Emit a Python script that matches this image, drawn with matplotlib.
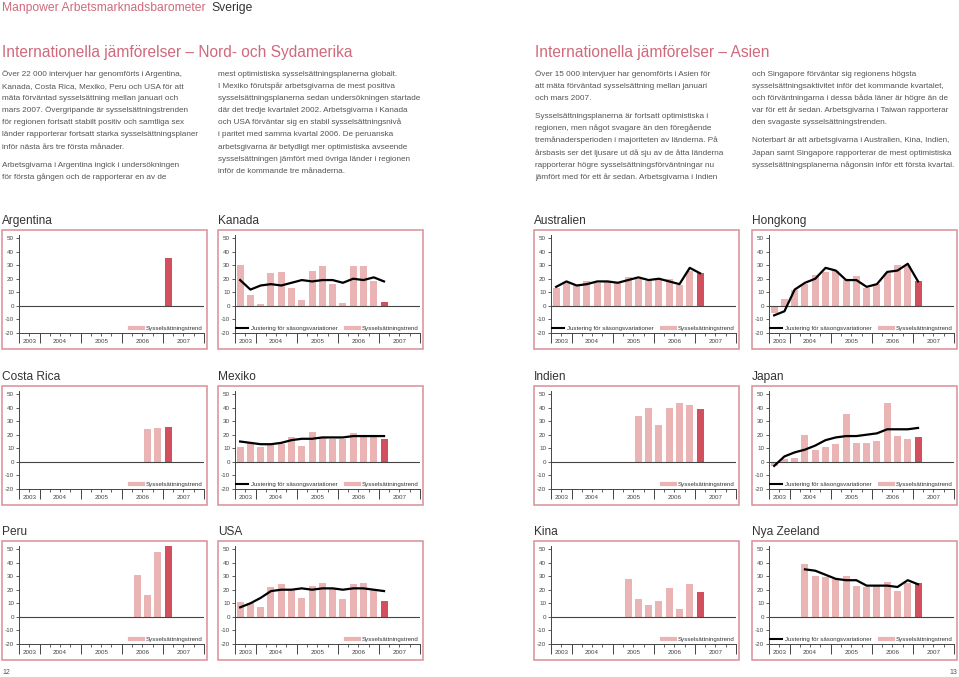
#Manpower Arbetsmarknadsbarometer - internationella jämförelser
#Sidorna 12-13 med tolv små stapeldiagram

import numpy as np
import matplotlib.pyplot as plt
from matplotlib.patches import Rectangle
from matplotlib.lines import Line2D
from matplotlib.transforms import blended_transform_factory

plt.rcParams['font.family'] = ['Liberation Sans', 'DejaVu Sans']

#Kvartalen på x-axeln (index 0 = 2003 Q3)
kvartal = ['2003 Q3', '2003 Q4',
           '2004 Q1', '2004 Q2', '2004 Q3', '2004 Q4',
           '2005 Q1', '2005 Q2', '2005 Q3', '2005 Q4',
           '2006 Q1', '2006 Q2', '2006 Q3', '2006 Q4',
           '2007 Q1', '2007 Q2', '2007 Q3', '2007 Q4']
ar = ['2003', '2004', '2005', '2006', '2007']
ar_granser = [0, 2, 6, 10, 14, 18]

#Sysselsättningstrend (staplar) och justering för säsongsvariationer (linje)
argentina_start = '2007 Q1'
argentina_trend = [35]

kanada_start = '2003 Q3'
kanada_trend = [30, 8, 1, 24, 25, 13, 4, 26, 29, 16, 2, 29, 29, 18, 3]
kanada_just = [19, 12, 15, 16, 15, 17, 19, 18, 19, 19, 17, 20, 19, 21, 18]

costarica_start = '2006 Q3'
costarica_trend = [24, 25, 26]

mexiko_start = '2003 Q3'
mexiko_trend = [11, 14, 11, 13, 13, 18, 12, 22, 18, 17, 17, 21, 19, 19, 17]
mexiko_just = [15, 14, 13, 13, 14, 16, 17, 17, 18, 18, 18, 19, 19, 19, 19]

peru_start = '2006 Q2'
peru_trend = [31, 16, 48, 52]

usa_start = '2003 Q3'
usa_trend = [11, 10, 7, 22, 24, 20, 14, 23, 25, 21, 13, 24, 25, 20, 12]
usa_just = [7, 10, 14, 19, 20, 20, 21, 20, 21, 21, 20, 21, 21, 20, 19]

australien_start = '2003 Q3'
australien_trend = [13, 17, 15, 18, 17, 18, 17, 21, 20, 18, 20, 20, 15, 26, 24]
australien_just = [14, 18, 15, 16, 18, 18, 17, 19, 21, 19, 20, 18, 16, 28, 24]

hongkong_start = '2003 Q3'
hongkong_trend = [-5, 5, 12, 16, 23, 25, 26, 19, 22, 13, 16, 24, 30, 29, 18]
hongkong_just = [-7, -4, 12, 17, 20, 28, 26, 19, 19, 14, 16, 25, 26, 31, 18]

indien_start = '2005 Q3'
indien_trend = [34, 40, 27, 40, 43, 42, 39]

japan_start = '2003 Q3'
japan_trend = [-3, 2, 3, 20, 9, 11, 13, 35, 14, 14, 15, 43, 19, 17, 18]
japan_just = [-3, 4, 7, 9, 12, 16, 18, 19, 19, 20, 21, 24, 24, 24, 25]

kina_start = '2005 Q2'
kina_trend = [28, 13, 9, 12, 21, 6, 24, 18]

nyazeeland_start = '2004 Q2'
nyazeeland_trend = [39, 30, 29, 28, 30, 23, 22, 23, 26, 19, 25, 25]
nyazeeland_just = [35, 34, 31, 28, 27, 27, 23, 23, 23, 22, 27, 24]

#Färger
ROSA = '#cf6a7c'
RAM = '#da8d97'
LJUS = '#ebb4b4'
MORK = '#d24f5e'
GRA = '#555555'

#Figuren i pixlar
W, H = 959, 677
fig = plt.figure(figsize=(W/100, H/100), dpi=100)
bg = fig.add_axes([0, 0, 1, 1])
bg.set_xlim(0, W)
bg.set_ylim(H, 0)
bg.axis('off')

def px(x, y, w, h):
    return [x/W, 1 - (y + h)/H, w/W, h/H]

#Rubriker
bg.text(2, 11, 'Manpower Arbetsmarknadsbarometer', color=ROSA, fontsize=8.7, va='baseline')
bg.text(211, 11, 'Sverige', color='#333333', fontsize=8.7, va='baseline')
bg.text(2, 57.5, 'Internationella jämförelser – Nord- och Sydamerika', color=ROSA, fontsize=11.2, va='baseline')
bg.text(535, 57.5, 'Internationella jämförelser – Asien', color=ROSA, fontsize=11.2, va='baseline')

#Brödtext
text1 = ['Över 22 000 intervjuer har genomförts i Argentina,',
         'Kanada, Costa Rica, Mexiko, Peru och USA för att',
         'mäta förväntad sysselsättning mellan januari och',
         'mars 2007. Övergripande är sysselsättningstrenden',
         'för regionen fortsatt stabilt positiv och samtliga sex',
         'länder rapporterar fortsatt starka sysselsättningsplaner',
         'inför nästa års tre första månader.',
         '',
         'Arbetsgivarna i Argentina ingick i undersökningen',
         'för första gången och de rapporterar en av de']
text2 = ['mest optimistiska sysselsättningsplanerna globalt.',
         'I Mexiko förutspår arbetsgivarna de mest positiva',
         'sysselsättningsplanerna sedan undersökningen startade',
         'där det tredje kvartalet 2002. Arbetsgivarna i Kanada',
         'och USA förväntar sig en stabil sysselsättningsnivå',
         'i paritet med samma kvartal 2006. De peruanska',
         'arbetsgivarna är betydligt mer optimistiska avseende',
         'sysselsättningen jämfört med övriga länder i regionen',
         'inför de kommande tre månaderna.']
text3 = ['Över 15 000 intervjuer har genomförts i Asien för',
         'att mäta förväntad sysselsättning mellan januari',
         'och mars 2007.',
         '',
         'Sysselsättningsplanerna är fortsatt optimistiska i',
         'regionen, men något svagare än den föregående',
         'tremånadersperioden i majoriteten av länderna. På',
         'årsbasis ser det ljusare ut då sju av de åtta länderna',
         'rapporterar högre sysselsättningsförväntningar nu',
         'jämfört med för ett år sedan. Arbetsgivarna i Indien']
text4 = ['och Singapore förväntar sig regionens högsta',
         'sysselsättningsaktivitet inför det kommande kvartalet,',
         'och förväntningarna i dessa båda läner är högre än de',
         'var för ett år sedan. Arbetsgivarna i Taiwan rapporterar',
         'den svagaste sysselsättningstrenden.',
         '',
         'Noterbart är att arbetsgivarna i Australien, Kina, Indien,',
         'Japan samt Singapore rapporterar de mest optimistiska',
         'sysselsättningsplanerna någonsin inför ett första kvartal.']

def stycke(x, rader):
    y = 75.5
    for r in rader:
        if r == '':
            y += 6
            continue
        bg.text(x, y, r, color=GRA, fontsize=5.9, va='baseline')
        y += 12.2

stycke(2, text1)
stycke(218, text2)
stycke(535, text3)
stycke(752, text4)

#Sidnummer
bg.text(2, 674, '12', color=GRA, fontsize=5, va='baseline')
bg.text(957, 674, '13', color=GRA, fontsize=5, va='baseline', ha='right')

KOL = [2, 218, 534, 752]
RAD = [230, 386, 541]

def panel(kol, rad, namn, start, trend, just=None, visa_just=True):
    bx, by = KOL[kol], RAD[rad]
    bg.add_patch(Rectangle((bx, by), 205, 119, fill=False, ec=RAM, lw=1.1))
    bg.text(bx, by - 6, namn, color='#333333', fontsize=8.6, va='baseline')

    ax = fig.add_axes(px(bx + 17, by + 4.6, 185, 98.4))
    i0 = kvartal.index(start)
    x = np.arange(i0, i0 + len(trend)) + 0.5
    farger = [LJUS] * (len(trend) - 1) + [MORK]
    ax.bar(x, trend, width=0.68, color=farger, zorder=2)
    if just is not None:
        ax.plot(x[:len(just)], just, color='black', lw=1.6, zorder=4)
    ax.axhline(0, color='#444444', lw=0.8, zorder=3)

    ax.set_xlim(0, 18)
    ax.set_ylim(-20, 52.5)
    ax.set_yticks(range(-20, 51, 10))
    ax.set_yticklabels([str(v) for v in range(-20, 51, 10)])
    ax.set_xticks(ar_granser)
    ax.set_xticklabels([])
    ax.set_xticks(range(19), minor=True)
    ax.tick_params(axis='y', length=2.5, width=0.6, pad=1, labelsize=4.5, colors='#444444')
    ax.tick_params(axis='x', which='major', length=7, width=0.7, colors='#444444')
    ax.tick_params(axis='x', which='minor', length=2.5, width=0.6, colors='#444444')
    for s in ['top', 'right']:
        ax.spines[s].set_visible(False)
    for s in ['left', 'bottom']:
        ax.spines[s].set_color('#444444')
        ax.spines[s].set_linewidth(0.7)
    ax.patch.set_alpha(0)

    tr = blended_transform_factory(ax.transData, ax.transAxes)
    for a, x0, x1 in zip(ar, ar_granser[:-1], ar_granser[1:]):
        ax.text((x0 + x1)/2, -0.09, a, transform=tr, ha='center', va='center',
                fontsize=4.5, color='#444444')

    handles, labels = [], []
    if just is not None and visa_just:
        handles.append(Line2D([], [], color='black', lw=1.5))
        labels.append('Justering för säsongsvariationer')
    handles.append(Line2D([], [], color=LJUS, lw=3))
    labels.append('Sysselsättningstrend')
    ax.legend(handles, labels, loc='lower right', ncol=2, frameon=False,
              fontsize=4.4, handlelength=2.0, handletextpad=0.5,
              columnspacing=1.4, borderaxespad=0.15, borderpad=0.1,
              labelcolor='#333333')
    return ax

panel(0, 0, 'Argentina', argentina_start, argentina_trend)
panel(1, 0, 'Kanada', kanada_start, kanada_trend, kanada_just)
panel(0, 1, 'Costa Rica', costarica_start, costarica_trend)
panel(1, 1, 'Mexiko', mexiko_start, mexiko_trend, mexiko_just)
panel(0, 2, 'Peru', peru_start, peru_trend)
panel(1, 2, 'USA', usa_start, usa_trend, usa_just, visa_just=False)
panel(2, 0, 'Australien', australien_start, australien_trend, australien_just)
panel(3, 0, 'Hongkong', hongkong_start, hongkong_trend, hongkong_just)
panel(2, 1, 'Indien', indien_start, indien_trend)
panel(3, 1, 'Japan', japan_start, japan_trend, japan_just)
panel(2, 2, 'Kina', kina_start, kina_trend)
panel(3, 2, 'Nya Zeeland', nyazeeland_start, nyazeeland_trend, nyazeeland_just)

fig.savefig('out.png', dpi=100)
